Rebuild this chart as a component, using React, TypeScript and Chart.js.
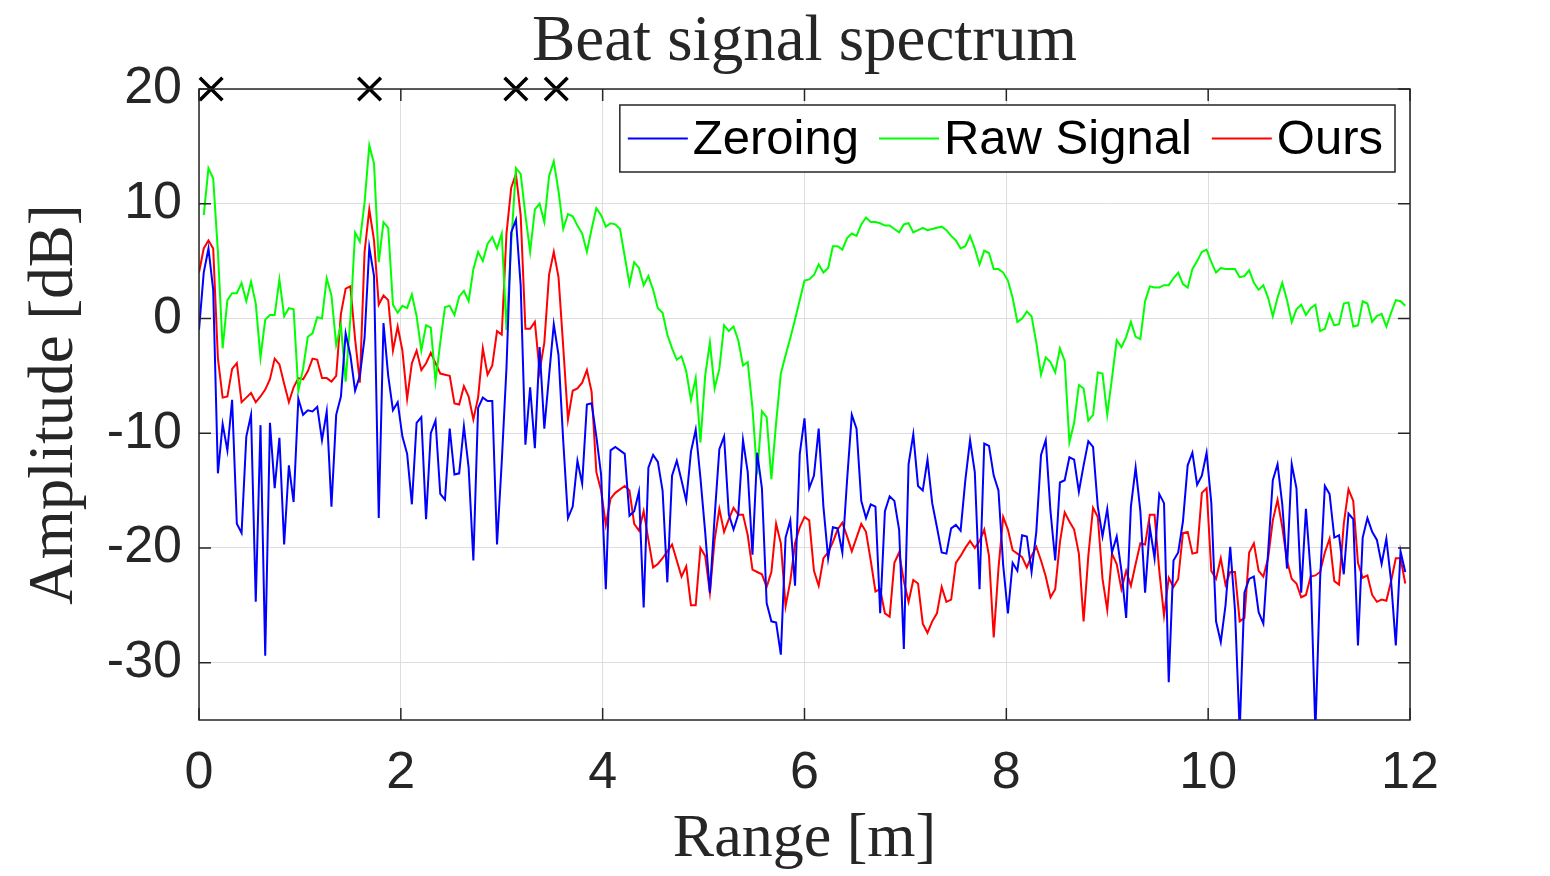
import React, { useEffect, useRef } from 'react';
import { Chart, registerables } from 'chart.js';

Chart.register(...registerables);

// ---------------- data ----------------
const RANGE_MAX = 12;
const BIN_COUNT = 256;
const RANGE: number[] = Array.from({ length: BIN_COUNT }, (_, i) => (i * RANGE_MAX) / BIN_COUNT);

const ZEROING: number[] = [
  -1.0, 4.0, 6.1, 2.5, -13.5, -9.2, -11.5, -7.1, -17.9, -18.7, -10.3, -8.4, -24.7, -9.3, -29.4, -9.1, -14.8, -10.4, -19.7, -12.8,
  -16.0, -7.0, -8.4, -8.0, -8.1, -7.7, -10.6, -8.1, -16.4, -8.4, -6.8, -1.3, -3.2, -6.3, -5.0, -1.7, 6.2, 3.7, -17.4, -0.4,
  -5.0, -8.0, -7.3, -10.3, -11.8, -16.2, -9.1, -8.6, -17.5, -10.0, -8.9, -15.3, -15.8, -9.6, -13.6, -13.5, -9.4, -13.0, -21.1, -7.8,
  -6.9, -7.2, -7.2, -19.7, -12.5, -4.3, 7.5, 8.6, 2.9, -11.0, -6.0, -11.3, -2.5, -9.6, -5.0, -0.5, -3.2, -10.7, -17.4, -16.4,
  -12.4, -14.4, -7.5, -7.4, -10.3, -13.6,
  -23.6, -11.5, -11.2, -11.5, -11.8, -17.2, -16.8, -15.1, -25.2, -13.0, -11.9, -12.5, -15.0, -23.0, -13.7, -12.4, -14.1, -15.9, -11.6, -9.7,
  -13.9, -18.6, -23.9, -17.3, -11.4, -10.3, -17.1, -18.4, -17.1, -10.6, -13.4, -20.6, -11.7, -14.8, -24.8, -26.4, -26.5, -29.3, -19.1, -17.6,
  -23.3, -11.8, -8.7,
  -14.8, -13.7, -9.6, -16.4, -20.9, -18.2, -18.3, -20.4, -14.1, -8.4, -9.6, -15.9, -17.4, -16.2, -16.4, -25.7, -16.8, -15.5, -15.9, -18.4,
  -28.8, -12.7, -10.1, -14.6, -15.0, -12.3, -16.1, -18.2, -20.4, -20.5, -18.3, -18.0, -18.5, -14.1, -10.6, -13.4, -23.6, -10.9, -11.1, -13.7,
  -15.0, -21.5,
  -25.7, -21.3, -22.0, -18.9, -19.0, -22.1, -18.6, -11.9, -10.6, -16.8, -21.1, -14.3, -14.1, -12.1, -12.3, -15.1, -12.8, -10.7, -11.2, -16.4,
  -19.0, -16.6, -20.4, -19.0, -22.0, -26.1, -16.4, -13.0, -16.8, -23.9, -18.2, -20.9, -15.3, -16.1, -31.7, -21.1, -20.4, -17.7, -12.8, -11.7,
  -14.5, -13.7,
  -11.7, -16.1, -26.4, -28.2, -25.0, -19.9, -25.4, -36.0, -23.9, -22.7, -22.5, -25.6, -26.6, -20.4, -14.1, -12.7, -16.2, -21.8, -12.7, -14.8,
  -23.9, -16.6, -22.1, -36.0, -22.7, -14.6, -15.3, -19.1, -18.9, -22.3, -17.0, -17.5, -28.5, -19.1, -17.4, -18.6, -19.3, -21.4, -19.2, -22.9,
  -28.5, -20.3, -22.1,
];

const RAW_SIGNAL: (number | null)[] = [
  null, 9.0, 13.1, 12.2, 5.8, -2.6, 1.6, 2.2, 2.2, 3.1, 1.5, 3.2, 1.3, -3.4, -0.1, 0.3, 0.3, 3.4, 0.2, 0.9,
  0.8, -6.3, -4.4, -1.6, -1.3, 0.1, 0.0, 3.5, 2.0, -2.3, -0.6, -5.5, 0.0, 7.5, 6.7, 10.1, 15.1, 13.5, 4.9, 8.4,
  7.9, 1.2, 0.5, 1.1, 0.9, 2.1, 0.2, -2.8, -0.6, -0.8, -5.5, -2.1, 1.0, 1.1, 0.3, 1.9, 2.4, 1.5, 4.3, 5.8,
  5.0, 6.5, 7.1, 6.1, 7.4, -1.0, 6.5, 13.1, 12.6, 9.0, 5.8, 9.5, 10.0, 8.4, 12.4, 13.7, 11.1, 7.8, 9.1, 8.9,
  8.1, 7.4, 5.8, 7.8, 9.6, 9.0,
  8.0, 8.3, 8.2, 7.8, 5.4, 3.0, 4.9, 4.4, 2.9, 3.7, 2.5, 0.9, 0.5, -1.4, -2.6, -3.6, -3.3, -4.6, -7.1, -5.2,
  -10.8, -5.0, -2.1, -6.1, -4.4, -0.6, -1.1, -0.7, -1.9, -4.1, -3.8, -7.8, -13.6, -8.1, -8.6, -14.0, -9.1, -4.8, -3.2, -1.7,
  -0.1, 1.6, 3.3,
  3.4, 3.8, 4.7, 4.0, 4.4, 6.3, 6.3, 6.0, 7.0, 7.4, 7.2, 8.2, 8.8, 8.4, 8.4, 8.3, 8.1, 8.1, 7.8, 7.5,
  8.2, 8.3, 7.5, 7.7, 7.9, 7.7, 7.8, 7.9, 8.0, 7.7, 7.2, 6.8, 6.1, 6.3, 7.2, 6.1, 4.7, 5.9, 5.7, 4.3,
  4.3, 4.0,
  3.3, 1.8, -0.3, 0.0, 0.6, 0.2, -2.1, -4.9, -3.4, -3.8, -4.7, -2.6, -3.7, -10.8, -9.1, -5.8, -6.1, -8.9, -8.4, -4.7,
  -4.8, -8.4, -5.2, -1.9, -2.5, -1.6, -0.3, -1.6, -1.8, 1.5, 2.8, 2.7, 2.7, 2.9, 2.9, 3.5, 4.0, 3.0, 2.7, 4.3,
  5.0, 5.8,
  6.0, 4.9, 4.0, 4.4, 4.3, 4.3, 4.3, 3.6, 3.7, 4.2, 3.1, 2.5, 2.9, 1.8, 0.2, 1.8, 3.1, 1.6, -0.3, 0.8,
  1.2, 0.3, 0.9, 1.2, -1.1, -0.9, 0.4, -0.6, -0.5, 1.3, 1.4, -0.7, -0.6, 1.5, 1.3, -0.3, 0.2, 0.4, -0.7, 0.5,
  1.6, 1.5, 1.1,
];

const OURS: number[] = [
  4.0, 6.1, 6.8, 6.1, -3.5, -6.9, -6.8, -4.4, -3.9, -7.3, -6.9, -6.5, -7.3, -6.8, -6.2, -5.3, -3.5, -4.0, -5.7, -7.3,
  -6.0, -5.2, -5.3, -4.6, -3.5, -3.6, -5.2, -5.2, -5.5, -5.0, 0.4, 2.6, 2.8, -1.8, -5.6, 5.8, 9.5, 6.8, 1.2, 2.0,
  1.6, -2.8, -0.7, -2.8, -7.0, -3.9, -2.8, -4.5, -3.9, -3.0, -3.9, -4.8, -4.9, -5.0, -7.4, -7.5, -5.9, -6.8, -8.8, -6.9,
  -2.6, -4.9, -4.1, -1.1, -1.4, 7.4, 11.4, 12.6, 9.0, -0.9, -0.9, -0.3, -4.6, -2.1, 3.8, 5.8, 3.6, -2.5, -8.8, -6.3,
  -6.1, -5.6, -4.5, -6.4, -13.4, -15.0,
  -18.0, -15.7, -15.2, -14.9, -14.6, -15.0, -17.9, -18.5, -16.8, -19.3, -21.7, -21.4, -20.9, -20.3, -19.7, -21.1, -22.5, -21.6, -25.0, -25.0,
  -20.0, -20.7, -23.9, -19.3, -16.6, -18.6, -17.5, -16.5, -17.1, -17.1, -18.9, -21.9, -22.1, -22.3, -23.4, -22.1, -17.9, -19.6, -25.1, -22.9,
  -19.6, -18.2, -17.3,
  -17.6, -22.0, -23.3, -20.9, -20.4, -19.5, -18.4, -17.8, -19.0, -20.3, -19.1, -17.9, -18.6, -21.1, -23.8, -23.6, -25.7, -26.0, -21.3, -20.4,
  -22.9, -24.7, -22.8, -23.1, -26.6, -27.4, -26.4, -25.7, -23.4, -24.7, -24.5, -21.3, -20.7, -20.0, -19.4, -20.0, -19.4, -18.4, -20.7, -27.8,
  -21.8, -17.3,
  -18.4, -20.2, -20.5, -20.8, -21.7, -20.7, -19.9, -21.1, -22.5, -24.3, -23.6, -19.5, -16.9, -17.7, -18.4, -20.5, -26.4, -20.7, -16.5, -17.3,
  -22.7, -25.4, -20.5, -21.4, -23.6, -22.0, -23.3, -21.4, -19.6, -19.7, -17.1, -17.1, -22.0, -25.9, -22.6, -23.4, -22.7, -18.7, -18.6, -20.5,
  -20.4, -15.2,
  -14.8, -22.0, -22.7, -20.9, -23.2, -22.1, -22.1, -26.4, -26.1, -20.4, -19.6, -22.0, -22.5, -20.9, -17.6, -15.8, -18.2, -21.1, -22.7, -23.1,
  -24.3, -24.1, -22.5, -22.4, -22.1, -20.4, -19.2, -22.9, -23.2, -17.9, -14.9, -15.9, -21.3, -22.6, -22.4, -24.1, -24.7, -24.5, -24.6, -22.9,
  -20.9, -20.9, -23.1,
];

const DETECTION_RANGE: number[] = [0.12, 1.69, 3.14, 3.54];
const DETECTION_LEVEL: number[] = [20, 20, 20, 20];

const X_TICKS: number[] = [0, 2, 4, 6, 8, 10, 12];
const Y_TICKS: number[] = [-30, -20, -10, 0, 10, 20];
const X_MIN = 0;
const X_MAX = 12;
const Y_MIN = -35;
const Y_MAX = 20;

const LEGEND_LABELS: string[] = ['Zeroing', 'Raw Signal', 'Ours'];
const TITLE = 'Beat signal spectrum';
const X_TITLE = 'Range [m]';
const Y_TITLE = 'Amplitude [dB]';

// ---------------- styles ----------------
const AXIS_COLOR = '#262626';
const GRID_COLOR = '#dedede';
const SERIF = '"Liberation Serif", "Times New Roman", serif';
const SANS = '"Liberation Sans", Arial, Helvetica, sans-serif';
const COLORS = ['#0000ff', '#00ff00', '#ff0000'];

const toPoints = (ys: (number | null)[]) => ys.map((y, i) => ({ x: RANGE[i], y }));

const framePlugin = {
  id: 'matlabFrame',
  afterDraw(chart: any) {
    const { ctx, chartArea } = chart;
    const { left, right, top, bottom } = chartArea;
    const xs = chart.scales.x;
    const ys = chart.scales.y;
    ctx.save();

    // title centred over the axes
    ctx.fillStyle = AXIS_COLOR;
    ctx.font = `65px ${SERIF}`;
    ctx.textAlign = 'center';
    ctx.textBaseline = 'alphabetic';
    ctx.fillText(TITLE, (left + right) / 2, top - 29);

    // axes box and inward ticks
    ctx.strokeStyle = AXIS_COLOR;
    ctx.lineWidth = 1.5;
    ctx.strokeRect(left, top, right - left, bottom - top);
    const TL = 12;
    ctx.beginPath();
    X_TICKS.forEach((v) => {
      const px = xs.getPixelForValue(v);
      ctx.moveTo(px, bottom);
      ctx.lineTo(px, bottom - TL);
      ctx.moveTo(px, top);
      ctx.lineTo(px, top + TL);
    });
    Y_TICKS.forEach((v) => {
      const py = ys.getPixelForValue(v);
      ctx.moveTo(left, py);
      ctx.lineTo(left + TL, py);
      ctx.moveTo(right, py);
      ctx.lineTo(right - TL, py);
    });
    ctx.stroke();

    // legend
    ctx.font = `49px ${SANS}`;
    const sampleLen = 60;
    const gapSample = 5;
    const gapItem = 20;
    const padL = 8;
    const padR = 12;
    const boxH = 67;
    const widths = LEGEND_LABELS.map((t) => ctx.measureText(t).width);
    const total =
      padL + padR + widths.reduce((a, w) => a + w + sampleLen + gapSample, 0) + gapItem * (LEGEND_LABELS.length - 1);
    const bRight = right - 15;
    const bLeft = bRight - total;
    const bTop = top + 16;
    ctx.fillStyle = '#ffffff';
    ctx.fillRect(bLeft, bTop, total, boxH);
    ctx.strokeStyle = AXIS_COLOR;
    ctx.lineWidth = 1.5;
    ctx.strokeRect(bLeft, bTop, total, boxH);
    const cy = bTop + boxH / 2;
    let x = bLeft + padL;
    LEGEND_LABELS.forEach((t, i) => {
      ctx.strokeStyle = COLORS[i];
      ctx.lineWidth = 2;
      ctx.beginPath();
      ctx.moveTo(x, cy);
      ctx.lineTo(x + sampleLen, cy);
      ctx.stroke();
      x += sampleLen + gapSample;
      ctx.fillStyle = '#000000';
      ctx.textBaseline = 'middle';
      ctx.textAlign = 'left';
      ctx.fillText(t, x, cy + 2);
      x += widths[i] + gapItem;
    });
    ctx.restore();
  },
};

export default function App() {
  const canvasRef = useRef<HTMLCanvasElement | null>(null);

  useEffect(() => {
    if (!canvasRef.current) return;
    const series = [ZEROING, RAW_SIGNAL, OURS];
    const chart = new Chart(canvasRef.current, {
      type: 'line',
      data: {
        datasets: [
          ...series.map((s, i) => ({
            label: LEGEND_LABELS[i],
            data: toPoints(s),
            borderColor: COLORS[i],
            backgroundColor: COLORS[i],
            borderWidth: 2,
            pointRadius: 0,
            tension: 0,
            spanGaps: false,
          })),
          {
            label: 'Detections',
            data: DETECTION_RANGE.map((x, i) => ({ x, y: DETECTION_LEVEL[i] })),
            showLine: false,
            pointStyle: 'crossRot',
            pointRadius: 16,
            pointBorderWidth: 3.5,
            borderColor: '#000000',
            backgroundColor: '#000000',
            clip: false,
          } as any,
        ],
      },
      options: {
        animation: false,
        responsive: true,
        maintainAspectRatio: false,
        layout: { padding: { left: 0, right: 140, top: 89, bottom: 0 } },
        plugins: {
          legend: { display: false },
          tooltip: { enabled: false },
          title: { display: false },
        },
        scales: {
          x: {
            type: 'linear',
            min: X_MIN,
            max: X_MAX,
            afterBuildTicks: (s: any) => {
              s.ticks = X_TICKS.map((v) => ({ value: v }));
            },
            afterFit: (s: any) => {
              s.height = 156;
            },
            grid: { color: GRID_COLOR, lineWidth: 1, drawTicks: false },
            border: { display: false },
            ticks: {
              color: AXIS_COLOR,
              font: { family: SANS, size: 52 },
              padding: 22,
              maxRotation: 0,
              autoSkip: false,
            },
            title: {
              display: true,
              text: X_TITLE,
              color: AXIS_COLOR,
              font: { family: SERIF, size: 62, lineHeight: 1 },
              padding: { top: 0, bottom: 5 },
            },
          },
          y: {
            type: 'linear',
            min: Y_MIN,
            max: Y_MAX,
            afterBuildTicks: (s: any) => {
              s.ticks = Y_TICKS.map((v) => ({ value: v }));
            },
            afterFit: (s: any) => {
              s.width = 199;
            },
            grid: { color: GRID_COLOR, lineWidth: 1, drawTicks: false },
            border: { display: false },
            ticks: {
              color: AXIS_COLOR,
              font: { family: SANS, size: 52 },
              padding: 17,
              autoSkip: false,
            },
            title: {
              display: true,
              text: Y_TITLE,
              color: AXIS_COLOR,
              font: { family: SERIF, size: 63, lineHeight: 1 },
              padding: { top: 24, bottom: 0 },
            },
          },
        },
      } as any,
      plugins: [framePlugin],
    });
    return () => chart.destroy();
  }, []);

  return (
    <div
      style={{
        position: 'fixed',
        left: 0,
        top: 0,
        width: 1550,
        height: 876,
        background: '#ffffff',
      }}
    >
      <canvas ref={canvasRef} />
    </div>
  );
}
